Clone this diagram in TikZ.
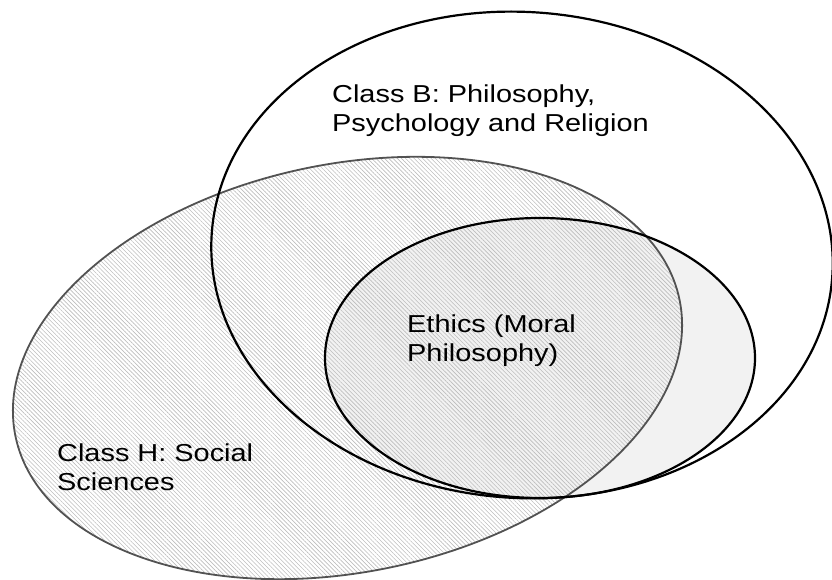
\documentclass[tikz,border=0pt]{standalone}
\usepackage{fontspec}
\setmainfont{Liberation Sans}
\usetikzlibrary{patterns.meta}
\begin{document}
\begin{tikzpicture}[x=1pt,y=1pt,
  outl/.style={line width=2.2pt, draw=black},
  houtl/.style={line width=1.8pt, draw=black!68},
  hatch/.style={pattern={Lines[angle=-45,distance=3pt,line width=0.6pt]}, pattern color=black!26},
  lbl/.style={anchor=base west, inner sep=0pt, font=\fontsize{24.5}{29}\selectfont}]
\useasboundingbox (0,0) rectangle (832,580);
% Ethics fill
\fill[black!5] (540,222) ellipse [x radius=215, y radius=140];
% Class H hatching
\path[hatch, rotate around={11.6:(347.5,212)}] (347.5,212) ellipse [x radius=339, y radius=204];
% outlines
\draw[houtl, rotate around={11.6:(347.5,212)}] (347.5,212) ellipse [x radius=339, y radius=204];
\draw[outl, rotate around={-4:(522,325)}] (522,325) ellipse [x radius=311, y radius=243];
\draw[outl] (540,222) ellipse [x radius=215, y radius=140];
% labels
\node[lbl] (nB) at (332,477) {\scalebox{1.18}[1]{\begin{tabular}[t]{@{}l@{}}Class B: Philosophy,\\Psychology and Religion\end{tabular}}};
\node[lbl] (nE) at (407,247) {\scalebox{1.18}[1]{\begin{tabular}[t]{@{}l@{}}Ethics (Moral\\Philosophy)\end{tabular}}};
\node[lbl] (nH) at (57,118) {\scalebox{1.18}[1]{\begin{tabular}[t]{@{}l@{}}Class H: Social\\Sciences\end{tabular}}};
\end{tikzpicture}
\end{document}
